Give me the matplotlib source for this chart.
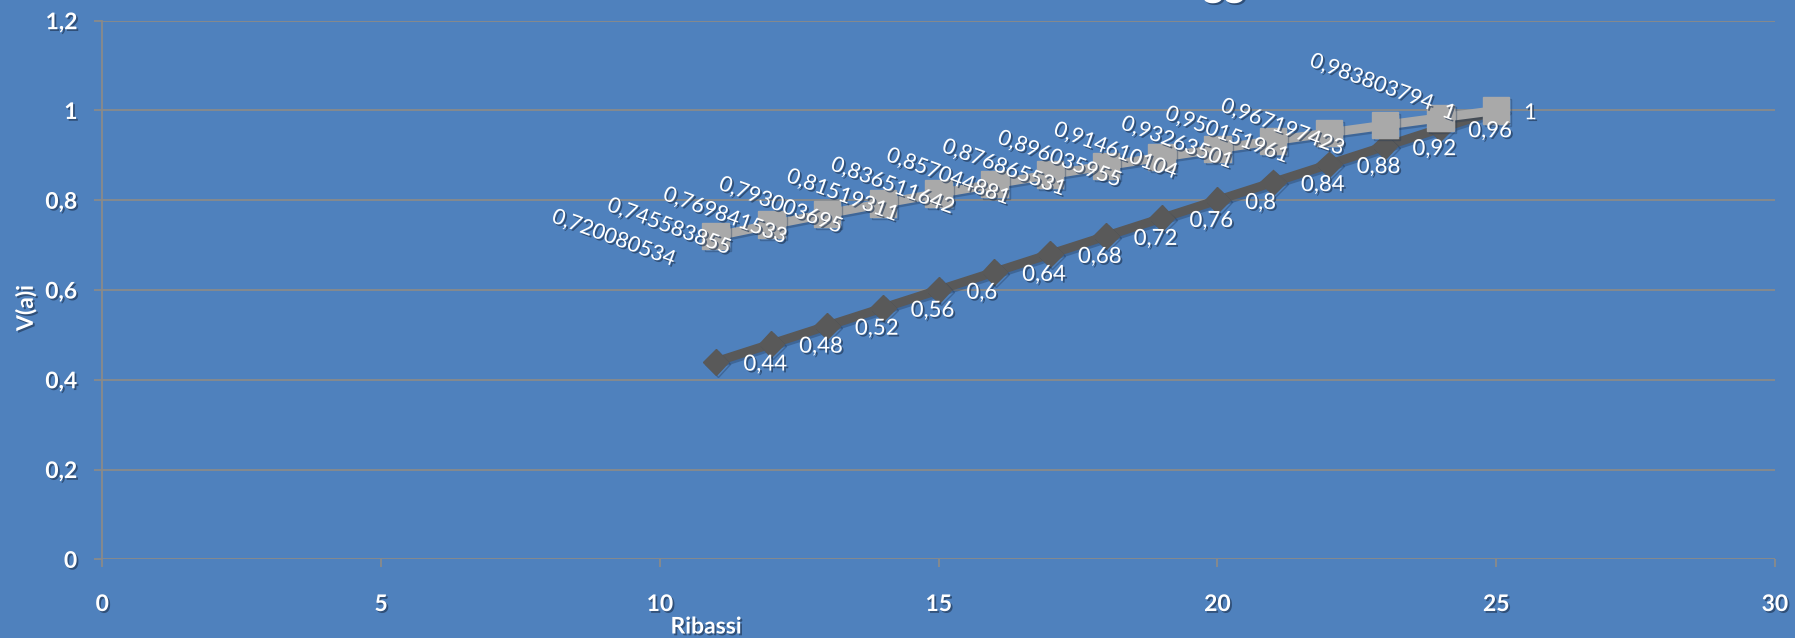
import matplotlib
matplotlib.use("Agg")
import matplotlib.pyplot as plt
import matplotlib.patheffects as pe
from matplotlib.ticker import FuncFormatter, MultipleLocator

# ---- data ----
ribassi = [11, 12, 13, 14, 15, 16, 17, 18, 19, 20, 21, 22, 23, 24, 25]
serie_lineare = [0.44, 0.48, 0.52, 0.56, 0.6, 0.64, 0.68, 0.72, 0.76, 0.8,
                 0.84, 0.88, 0.92, 0.96, 1]
serie_curva = [0.720080534, 0.745583855, 0.769841533, 0.793003695, 0.81519311,
               0.836511642, 0.857044881, 0.876865531, 0.896035955, 0.914610104,
               0.93263501, 0.950151961, 0.967197423, 0.983803794, 1]
x_label = "Ribassi"
y_label = "V(a)i"
title_fragment = "gg"

BG = "#4F81BD"
GRID = "#8A8A8A"
DARK = "#595959"
LIGHT = "#A9A9A9"
FONT = "Lato"

def comma(v):
    return f"{v:.10g}".replace(".", ",")

shadow = [pe.withSimplePatchShadow(offset=(1.3, -1.3), shadow_rgbFace="#1f3553", alpha=0.65)]
line_shadow = [pe.SimpleLineShadow(offset=(1.5, -1.5), shadow_color="#1f3553", alpha=0.35), pe.Normal()]

fig = plt.figure(figsize=(17.95, 6.38), dpi=100, facecolor=BG)
ax = fig.add_axes([102.3 / 1795, 78.7 / 638, 1672.7 / 1795, 538.6 / 638])
ax.set_facecolor(BG)

ax.set_xlim(0, 30)
ax.set_ylim(0, 1.2)
ax.xaxis.set_major_locator(MultipleLocator(5))
ax.yaxis.set_major_locator(MultipleLocator(0.2))
ax.xaxis.set_major_formatter(FuncFormatter(lambda v, p: comma(round(v, 6))))
ax.yaxis.set_major_formatter(FuncFormatter(lambda v, p: comma(round(v, 6))))

ax.grid(axis="y", color=GRID, linewidth=1.3)
ax.set_axisbelow(True)
for s in ["top", "right", "bottom"]:
    ax.spines[s].set_visible(False)
ax.spines["left"].set_color(GRID)
ax.spines["left"].set_linewidth(1.3)

ax.tick_params(axis="both", colors=GRID, length=6, width=1.3, direction="out")
ax.tick_params(axis="y", pad=12)
ax.tick_params(axis="x", pad=19)
for lab in ax.get_xticklabels() + ax.get_yticklabels():
    lab.set_fontfamily(FONT)
    lab.set_fontweight("bold")
    lab.set_fontsize(16.5)
    lab.set_color("white")
    lab.set_path_effects(shadow)

# series
ax.plot(ribassi, serie_lineare, color=DARK, linewidth=6.5, marker="D",
        markersize=13, markeredgecolor=DARK, zorder=3, clip_on=False,
        path_effects=line_shadow)
ax.plot(ribassi, serie_curva, color=LIGHT, linewidth=6.5, marker="s",
        markersize=19, markeredgecolor=LIGHT, zorder=4, clip_on=False,
        path_effects=line_shadow)

# data labels - linear series (right of point)
for x, v in zip(ribassi, serie_lineare):
    ax.annotate(comma(v), (x, v), xytext=(20, -2), textcoords="offset points",
                ha="left", va="center", color="white", fontsize=16,
                family=FONT, path_effects=shadow, zorder=6)

# data labels - curve series (left of point, rotated)
label_offsets = {24: (-3.5, 25.5)}
for x, v in zip(ribassi, serie_curva):
    off = label_offsets.get(x, (-27.5, -1.5))
    ax.annotate(comma(v), (x, v), xytext=off, textcoords="offset points",
                ha="right", va="center", rotation=-20, color="white",
                fontsize=15.5, family=FONT, path_effects=shadow, zorder=6)

# axis titles
fig.text(26 / 1795, 1 - 308 / 638, y_label, rotation=90, ha="center", va="center",
         color="white", fontsize=16.5, fontweight="bold", family=FONT, path_effects=shadow)
fig.text(706 / 1795, 1 - 627 / 638, x_label, ha="center", va="center",
         color="white", fontsize=16.5, fontweight="bold", family=FONT, path_effects=shadow)

# chart title (mostly cut off at the top of the image, as in the reference)
fig.text(1224 / 1795, 1 + 4 / 638, title_fragment, ha="center", va="baseline",
         color="white", fontsize=29, fontweight="bold", family=FONT, path_effects=shadow)

fig.savefig("out.png", dpi=100, facecolor=BG)
